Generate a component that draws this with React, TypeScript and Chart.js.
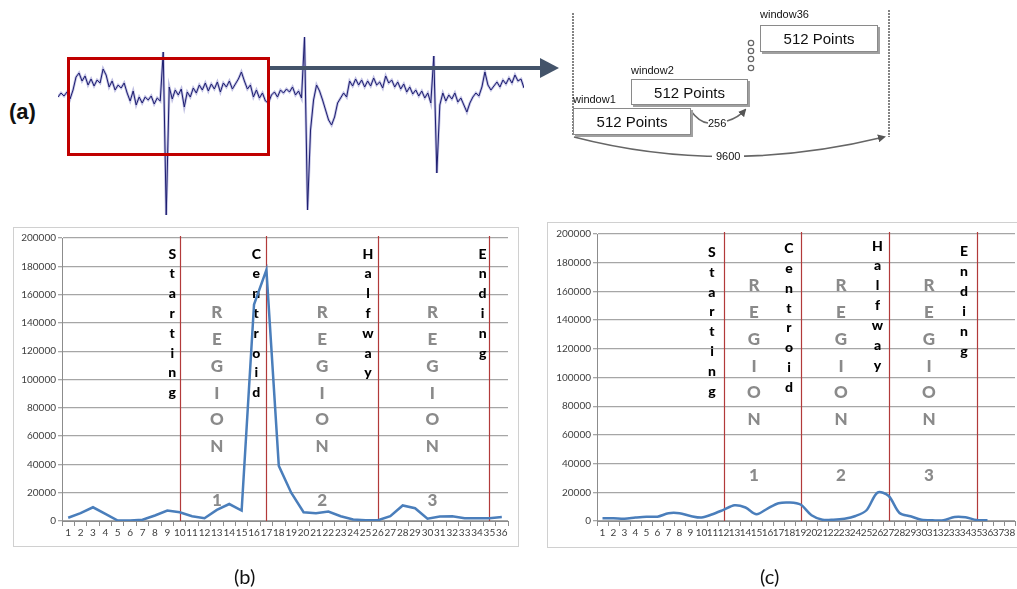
import React, { useEffect, useRef } from "react";
import { Chart, registerables } from "chart.js";
Chart.register(...registerables);

// ---------- DATA ----------
const labelsB = ["1","2","3","4","5","6","7","8","9","10","11","12","13","14","15","16","17","18","19","20","21","22","23","24","25","26","27","28","29","30","31","32","33","34","35","36"];
const valuesB = [2300, 5500, 9700, 5000, 300, 300, 900, 3900, 7400, 6200, 3400, 2000, 7800, 12000, 7400, 153000, 177500, 39000, 20000, 6200, 5500, 6700, 3400, 1100, 500, 500, 3400, 11000, 9000, 1600, 3200, 3400, 2000, 2000, 2000, 2800];
const markersB = ["10", "17", "26", "35"];

const labelsC = ["1","2","3","4","5","6","7","8","9","10","11","12","13","14","15","16","17","18","19","20","21","22","23","24","25","26","27","28","29","30","31","32","33","34","35","36","37","38"];
const valuesC = [1900, 1900, 1600, 2400, 3000, 3000, 5400, 5400, 3500, 2400, 4700, 7800, 11000, 9400, 4700, 8700, 12400, 12900, 11500, 4000, 900, 900, 1600, 3500, 7500, 19800, 17600, 5600, 3300, 900, 500, 500, 2800, 2600, 700, 600];
const markersC = ["12", "19", "27", "35"];

const yTicks = [0, 20000, 40000, 60000, 80000, 100000, 120000, 140000, 160000, 180000, 200000];

// raw signal in panel (a), amplitude relative to baseline
const signal = [-2, 2, -1, 3, -4, 5, 18, 22, 14, 19, 10, 16, 9, 15, 12, 26, 20, 8, 14, 5, 10, 7, 12, 2, -6, 4, -10, -2, -8, -2, -5, -1, -9, -3, -6, 43, -120, 8, -4, 5, 0, 6, -12, 3, -2, 7, 2, 10, 5, 12, 4, 11, 6, 13, 3, 12, 8, 14, 6, 11, 16, 23, 14, 6, 10, -2, 5, -3, 2, -6, -8, 0, 3, -2, 5, 2, 6, 3, 8, 0, 4, -3, 58, -115, -35, -5, 10, 4, -5, -15, -25, -30, -22, -8, -3, 2, -2, 14, 9, 16, 10, 15, 8, 14, 9, 17, 10, 13, 7, 19, 12, 15, 8, 13, 6, 11, 3, 8, 1, 5, -1, 4, -3, 2, -8, 39, -78, -10, 2, -6, 0, -4, 2, -7, -3, -10, -17, -8, -2, 2, -1, 8, 23, 10, 5, 9, 13, 8, 15, 11, 17, 12, 20, 14, 16, 7];

// ---------- ANNOTATIONS ----------
type Word = { text: string; x: number; y: number; step: number; kind: "label" | "region" };

const wordsB: Word[] = [
  { text: "Starting", x: 8.4, y: 188700, step: 19.8, kind: "label" },
  { text: "Centroid", x: 15.18, y: 188700, step: 19.8, kind: "label" },
  { text: "Halfway", x: 24.2, y: 188700, step: 19.8, kind: "label" },
  { text: "Ending", x: 33.45, y: 188700, step: 19.8, kind: "label" },
  { text: "REGION", x: 12.0, y: 147000, step: 26.7, kind: "region" },
  { text: "1", x: 12.0, y: 14800, step: 0, kind: "region" },
  { text: "REGION", x: 20.5, y: 147000, step: 26.7, kind: "region" },
  { text: "2", x: 20.5, y: 14800, step: 0, kind: "region" },
  { text: "REGION", x: 29.4, y: 147000, step: 26.7, kind: "region" },
  { text: "3", x: 29.4, y: 14800, step: 0, kind: "region" },
];

const wordsC: Word[] = [
  { text: "Starting", x: 9.95, y: 187300, step: 19.9, kind: "label" },
  { text: "Centroid", x: 16.95, y: 190000, step: 19.9, kind: "label" },
  { text: "Halfway", x: 25.0, y: 191600, step: 19.9, kind: "label" },
  { text: "Ending", x: 32.86, y: 187700, step: 19.9, kind: "label" },
  { text: "REGION", x: 13.77, y: 164000, step: 26.8, kind: "region" },
  { text: "1", x: 13.77, y: 32000, step: 0, kind: "region" },
  { text: "REGION", x: 21.68, y: 164000, step: 26.8, kind: "region" },
  { text: "2", x: 21.68, y: 32000, step: 0, kind: "region" },
  { text: "REGION", x: 29.68, y: 164000, step: 26.8, kind: "region" },
  { text: "3", x: 29.68, y: 32000, step: 0, kind: "region" },
];

const CAL = "Lato, 'Open Sans', sans-serif";
const ARIAL = "'Liberation Sans', Arial, sans-serif";

function overlayPlugin(id: string, markers: string[], words: Word[]) {
  return {
    id,
    beforeDatasetsDraw(chart: any) {
      const { ctx, chartArea } = chart;
      const xs = chart.scales.x;
      const ys = chart.scales.y;
      ctx.save();
      ctx.strokeStyle = "#b23a3a";
      ctx.lineWidth = 1.2;
      for (const m of markers) {
        const px = Math.round(xs.getPixelForValue(xs.getLabels().indexOf(m))) + 0.5;
        ctx.beginPath();
        ctx.moveTo(px, chartArea.top - 2);
        ctx.lineTo(px, chartArea.bottom);
        ctx.stroke();
      }
      ctx.textAlign = "center";
      ctx.textBaseline = "middle";
      for (const w of words) {
        const px = xs.getPixelForValue(w.x);
        const py = ys.getPixelForValue(w.y);
        if (w.kind === "label") {
          ctx.font = `900 14px ${CAL}`;
          ctx.fillStyle = "#000";
        } else {
          ctx.font = `900 17px ${CAL}`;
          ctx.fillStyle = "#8a8a8a";
        }
        const letters = w.text.split("");
        letters.forEach((ch, k) => ctx.fillText(ch, px, py + k * w.step));
      }
      ctx.restore();
    },
  };
}

function lineConfig(labels: string[], values: number[], markers: string[], words: Word[], yAxisWidth: number, xAxisHeight: number, padTop: number, padRight: number, tension: number) {
  return {
    type: "line",
    data: {
      labels,
      datasets: [
        {
          data: values,
          borderColor: "#4a7ebb",
          borderWidth: 2.5,
          pointRadius: 0,
          fill: false,
          tension,
        },
      ],
    },
    options: {
      animation: false,
      responsive: false,
      layout: { padding: { top: padTop, right: padRight, left: 0, bottom: 0 } },
      plugins: { legend: { display: false }, tooltip: { enabled: false } },
      scales: {
        x: {
          type: "category",
          offset: true,
          afterFit: (s: any) => { s.height = xAxisHeight; },
          grid: { display: true, drawOnChartArea: false, offset: true, tickLength: 5, color: "#8c8c8c" },
          border: { color: "#8c8c8c" },
          ticks: { autoSkip: false, maxRotation: 0, minRotation: 0, padding: 1, color: "#404040", font: { family: CAL, size: 10 } },
        },
        y: {
          min: 0,
          max: 200000,
          afterFit: (s: any) => { s.width = yAxisWidth; },
          afterBuildTicks: (s: any) => { s.ticks = yTicks.map((v) => ({ value: v })); },
          grid: { color: "#a6a6a6", lineWidth: 1.3, tickLength: 4 },
          border: { color: "#8c8c8c" },
          ticks: { padding: 2, color: "#404040", font: { family: CAL, size: 10 }, callback: (v: any) => String(v) },
        },
      },
    },
    plugins: [overlayPlugin("ov" + labels.length, markers, words)],
  };
}

function signalConfig() {
  return {
    type: "line",
    data: {
      labels: signal.map((_, i) => String(i)),
      datasets: [
        { data: signal, borderColor: "#1c1c6e", borderWidth: 1, pointRadius: 0, tension: 0, order: 1 },
        { data: signal, borderColor: "rgba(110,110,190,0.45)", borderWidth: 2.6, pointRadius: 0, tension: 0, order: 2 },
      ],
    },
    options: {
      animation: false,
      responsive: false,
      layout: { padding: 0 },
      plugins: { legend: { display: false }, tooltip: { enabled: false } },
      scales: {
        x: { display: false, offset: false },
        y: { display: false, min: -130, max: 65 },
      },
    },
  };
}

function ChartCanvas(props: { make: () => any; left: number; top: number; width: number; height: number }) {
  const ref = useRef<HTMLCanvasElement>(null);
  useEffect(() => {
    const chart = new Chart(ref.current as HTMLCanvasElement, props.make());
    return () => chart.destroy();
  }, []);
  return (
    <canvas
      ref={ref}
      width={props.width}
      height={props.height}
      style={{ position: "absolute", left: props.left, top: props.top, width: props.width, height: props.height }}
    />
  );
}

function Box(props: { left: number; top: number; width: number; height: number }) {
  return (
    <div
      style={{
        position: "absolute",
        left: props.left,
        top: props.top,
        width: props.width,
        height: props.height,
        boxSizing: "border-box",
        border: "1px solid #8a8a8a",
        boxShadow: "2px 2px 0 #a0a0a0",
        background: "#fff",
        fontFamily: ARIAL,
        fontSize: 15,
        color: "#111",
        display: "flex",
        alignItems: "center",
        justifyContent: "center",
      }}
    >
      512 Points
    </div>
  );
}

function Txt(props: { left: number; top: number; size: number; children: any; family?: string; bold?: boolean }) {
  return (
    <div style={{ position: "absolute", left: props.left, top: props.top, fontSize: props.size, fontFamily: props.family || ARIAL, fontWeight: props.bold ? "bold" : "normal", color: "#111", lineHeight: 1, whiteSpace: "nowrap" }}>
      {props.children}
    </div>
  );
}

export default function App() {
  return (
    <div style={{ position: "absolute", left: 0, top: 0, width: 1017, height: 589, overflow: "hidden", background: "#fff" }}>
      {/* panel (a) */}
      <Txt left={9} top={101} size={22} bold>(a)</Txt>
      <ChartCanvas make={signalConfig} left={58} top={30} width={466} height={195} />
      <div style={{ position: "absolute", left: 67, top: 57, width: 203, height: 99, boxSizing: "border-box", border: "3px solid #c00000" }} />
      <svg width={1017} height={589} style={{ position: "absolute", left: 0, top: 0 }}>
        <defs>
          <marker id="ah" markerWidth="8" markerHeight="8" refX="6" refY="4" orient="auto" markerUnits="userSpaceOnUse">
            <path d="M0,0 L8,4 L0,8 z" fill="#555" />
          </marker>
        </defs>
        <line x1={270} y1={68} x2={542} y2={68} stroke="#44546a" strokeWidth={4} />
        <polygon points="540,58 559,68 540,78" fill="#44546a" />
        <line x1={573} y1={13} x2={573} y2={135} stroke="#666" strokeWidth={1.6} strokeDasharray="2 1" />
        <line x1={889} y1={10} x2={889} y2={137} stroke="#666" strokeWidth={1.6} strokeDasharray="2 1" />
        <path d="M574,137 Q724,176 884,137" fill="none" stroke="#666" strokeWidth={1.6} markerEnd="url(#ah)" />
        <rect x={712} y={150} width={32} height={13} fill="#fff" />
        <path d="M691,111 Q699,122 708,123" fill="none" stroke="#666" strokeWidth={1.5} />
        <path d="M727,121 Q738,118 745,110" fill="none" stroke="#666" strokeWidth={1.8} markerEnd="url(#ah)" />
        {[43, 51, 59, 68].map((cy) => (
          <circle key={cy} cx={751} cy={cy} r={2.7} fill="#fff" stroke="#666" strokeWidth={1.2} />
        ))}
      </svg>
      <Box left={573} top={108} width={118} height={27} />
      <Box left={631} top={79} width={117} height={26} />
      <Box left={760} top={25} width={118} height={27} />
      <Txt left={573} top={94} size={11}>window1</Txt>
      <Txt left={631} top={65} size={11}>window2</Txt>
      <Txt left={760} top={9} size={11}>window36</Txt>
      <Txt left={708} top={118} size={11}>256</Txt>
      <Txt left={716} top={151} size={11}>9600</Txt>

      {/* panel (b) */}
      <div style={{ position: "absolute", left: 13, top: 227, width: 506, height: 320, boxSizing: "border-box", border: "1px solid #d0d0d0" }} />
      <ChartCanvas
        make={() => lineConfig(labelsB, valuesB, markersB, wordsB, 49, 26, 11, 11, 0)}
        left={13}
        top={227}
        width={506}
        height={320}
      />
      <Txt left={234} top={566} size={20} family={CAL}>(b)</Txt>

      {/* panel (c) */}
      <div style={{ position: "absolute", left: 547, top: 222, width: 490, height: 326, boxSizing: "border-box", border: "1px solid #d0d0d0" }} />
      <ChartCanvas
        make={() => lineConfig(labelsC, valuesC, markersC, wordsC, 50, 27, 12, 12, 0.3)}
        left={547}
        top={222}
        width={480}
        height={326}
      />
      <Txt left={760} top={566} size={20} family={CAL}>(c)</Txt>
    </div>
  );
}
